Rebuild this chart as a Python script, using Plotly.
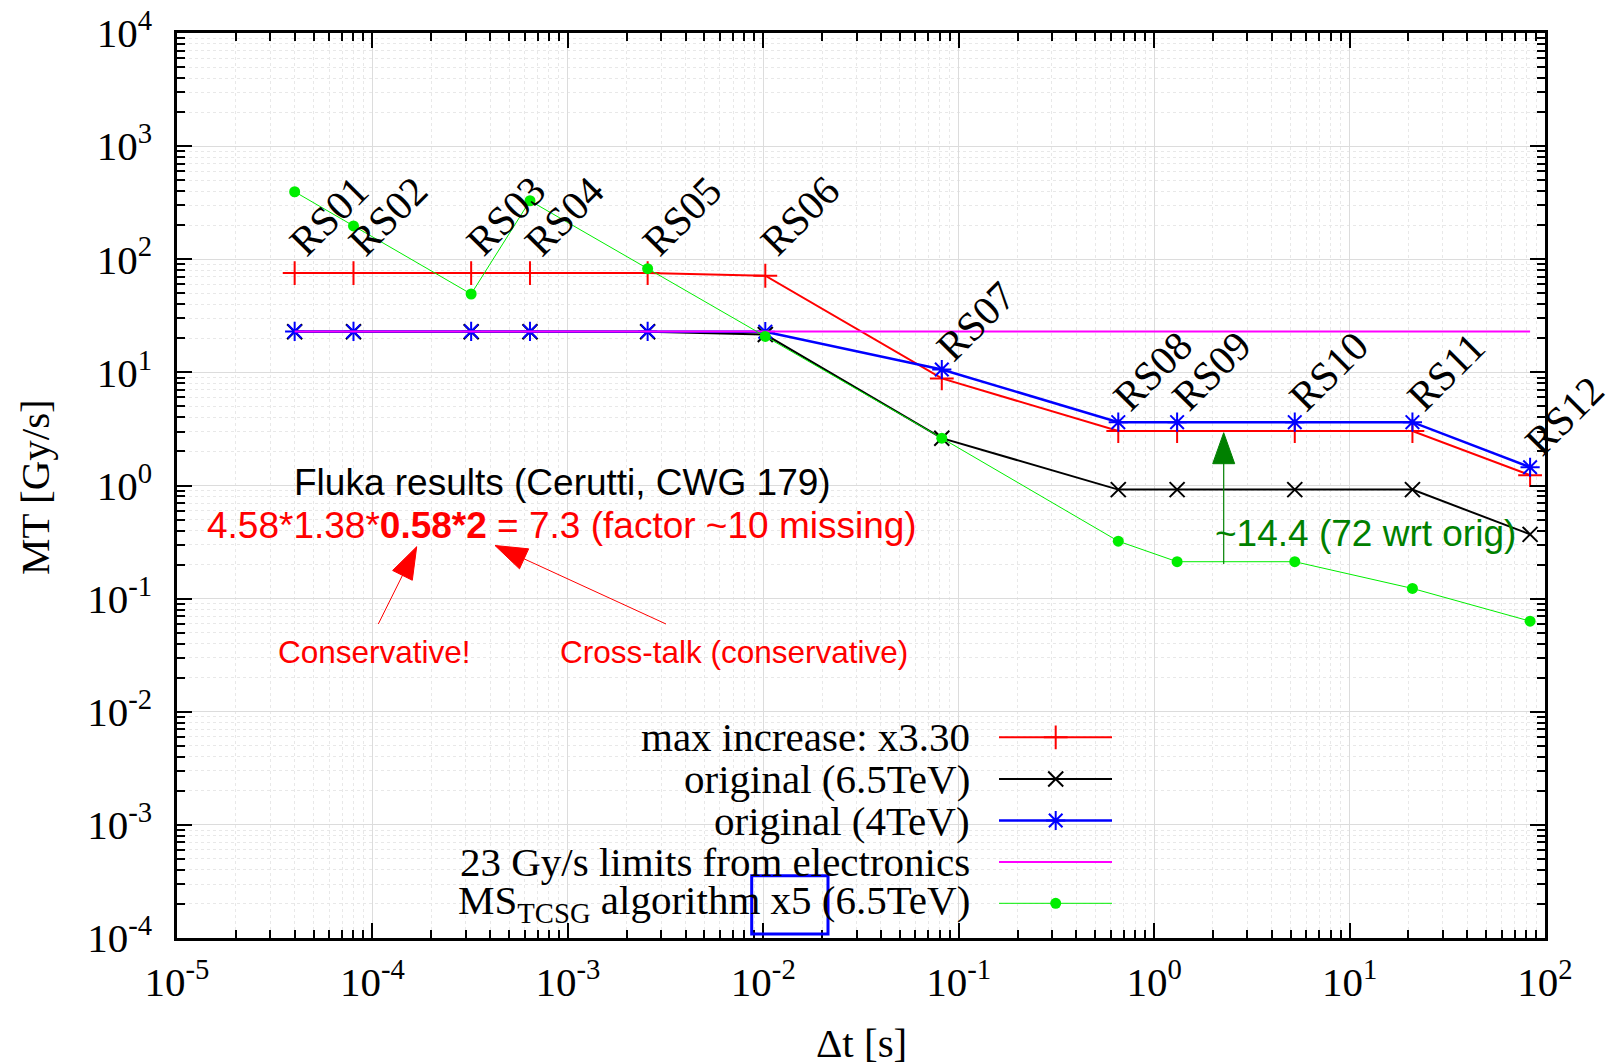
import math
import plotly.graph_objects as go

# ---------------- data ----------------
rs_labels = ["RS01", "RS02", "RS03", "RS04", "RS05", "RS06",
             "RS07", "RS08", "RS09", "RS10", "RS11", "RS12"]
dt_s = [4e-5, 8e-5, 3.2e-4, 6.4e-4, 2.56e-3, 1.024e-2,
        8.192e-2, 0.65536, 1.31072, 5.24288, 20.97152, 83.88608]
max_increase = [75.5, 75.5, 75.5, 75.5, 75.5, 71.5,
                8.85, 3.03, 3.03, 3.03, 3.03, 1.235]
orig_65tev = [22.9, 22.9, 22.9, 22.9, 22.9, 21.6,
              2.62, 0.92, 0.92, 0.92, 0.92, 0.37]
orig_4tev = [23.0, 23.0, 23.0, 23.0, 23.0, 22.9,
             10.6, 3.63, 3.63, 3.63, 3.63, 1.45]
elec_limit = [23, 23, 23, 23, 23, 23, 23, 23, 23, 23, 23, 23]
ms_tcsg_x5 = [395, 197, 49.3, 329, 82.5, 20.8,
              2.62, 0.322, 0.212, 0.212, 0.123, 0.0632]
label_y = [110, 110, 110, 110, 110, 110, 12.9, 4.65, 4.65, 4.65, 4.65, 1.86]

legend_names = ["max increase: x3.30", "original (6.5TeV)", "original (4TeV)",
                "23 Gy/s limits from electronics",
                "MS<sub>TCSG</sub> algorithm x5 (6.5TeV)"]

x_tickvals = [1e-5, 1e-4, 1e-3, 1e-2, 1e-1, 1e0, 1e1, 1e2]
x_ticktext = ["10<sup>-5</sup>", "10<sup>-4</sup>", "10<sup>-3</sup>", "10<sup>-2</sup>",
              "10<sup>-1</sup>", "10<sup>0</sup>", "10<sup>1</sup>", "10<sup>2</sup>"]
y_tickvals = [1e-4, 1e-3, 1e-2, 1e-1, 1e0, 1e1, 1e2, 1e3, 1e4]
y_ticktext = ["10<sup>-4</sup>", "10<sup>-3</sup>", "10<sup>-2</sup>", "10<sup>-1</sup>",
              "10<sup>0</sup>", "10<sup>1</sup>", "10<sup>2</sup>", "10<sup>3</sup>",
              "10<sup>4</sup>"]

# ---------------- layout constants ----------------
W, H = 1607, 1063
ML, MR, MT, MB = 177, 62, 33, 125
PW, PH = W - ML - MR, H - MT - MB
SERIF = "Liberation Serif, Times New Roman, serif"
SANS = "Liberation Sans, Arial, sans-serif"
RED, BLACK, BLUE, MAG, GRN, DKGRN = "#ff0000", "#000000", "#0000ff", "#ff00ff", "#00ee00", "#008000"


def px(x):
    return (x - ML) / PW


def py(y):
    return (MT + PH - y) / PH


x_minor = [k * 10.0 ** e for e in range(-5, 2) for k in range(2, 10)]
y_minor = [k * 10.0 ** e for e in range(-4, 4) for k in range(2, 10)]

fig = go.Figure()

series = [
    (max_increase, RED, 2, "cross-thin", 17, 2),
    (orig_65tev, BLACK, 2, "x-thin", 15, 2),
    (orig_4tev, BLUE, 2.5, "asterisk", 16, 2),
    (elec_limit, MAG, 2, None, 0, 0),
    (ms_tcsg_x5, GRN, 1, "circle", 11, 0),
]
for yv, col, lw, sym, ms, mlw in series:
    if sym is None:
        fig.add_trace(go.Scatter(x=dt_s, y=yv, mode="lines", line=dict(color=col, width=lw),
                                 showlegend=False, hoverinfo="skip"))
    else:
        fig.add_trace(go.Scatter(x=dt_s, y=yv, mode="lines+markers",
                                 line=dict(color=col, width=lw),
                                 marker=dict(symbol=sym, size=ms, color=col,
                                             line=dict(color=col, width=mlw)),
                                 showlegend=False, hoverinfo="skip"))

# ---------------- manual gnuplot-style key ----------------
key_rows = [py(737.3), py(779), py(820.5), py(862), py(903.3)]
key_x0, key_x1, key_xm = px(999), px(1112), px(1055.7)
for (yv, col, lw, sym, ms, mlw), name, ky in zip(series, legend_names, key_rows):
    fig.add_trace(go.Scatter(x=[key_x0, key_x1], y=[ky, ky], mode="lines",
                             line=dict(color=col, width=lw), xaxis="x2", yaxis="y2",
                             showlegend=False, hoverinfo="skip"))
    if sym is not None:
        fig.add_trace(go.Scatter(x=[key_xm], y=[ky], mode="markers",
                                 marker=dict(symbol=sym, size=ms, color=col,
                                             line=dict(color=col, width=mlw)),
                                 xaxis="x2", yaxis="y2", showlegend=False, hoverinfo="skip"))
    fig.add_annotation(x=px(972), y=ky, xref="paper", yref="paper", text=name,
                       showarrow=False, xanchor="right", yanchor="middle",
                       font=dict(family=SERIF, size=41, color="black"))

# ---------------- RS labels ----------------
for lab, xv, yv in zip(rs_labels, dt_s, label_y):
    fig.add_annotation(x=math.log10(xv), y=math.log10(yv), xref="x", yref="y", text=lab,
                       showarrow=False, textangle=-45, xanchor="center", yanchor="middle",
                       xshift=34, yshift=39,
                       font=dict(family=SERIF, size=41, color="black"))

# ---------------- text annotations ----------------
texts = [
    ("Fluka results (Cerutti, CWG 179)", 562, 482, BLACK, 37),
    ("4.58*1.38*<b>0.58*2</b> = 7.3 (factor ~10 missing)", 561.5, 525, RED, 37),
    ("Conservative!", 374, 652, RED, 31.5),
    ("Cross-talk (conservative)", 733.6, 652, RED, 31.5),
    ("~14.4 (72 wrt orig)", 1365, 533.7, DKGRN, 37),
]
for t, xx, yy, col, fs in texts:
    fig.add_annotation(x=px(xx), y=py(yy), xref="paper", yref="paper", text=t,
                       showarrow=False, xanchor="center", yanchor="middle",
                       font=dict(family=SANS, size=fs, color=col))

# axis titles
fig.add_annotation(x=px(35), y=py(487), xref="paper", yref="paper", text="MT [Gy/s]",
                   textangle=-90, showarrow=False, xanchor="center", yanchor="middle",
                   font=dict(family=SERIF, size=41, color="black"))
fig.add_annotation(x=0.5, y=py(1043), xref="paper", yref="paper", text="Δt [s]",
                   showarrow=False, xanchor="center", yanchor="middle",
                   font=dict(family=SERIF, size=41, color="black"))


# ---------------- arrows ----------------
def add_arrow(tip, tail, color, lw, hl, hw):
    ax, ay = px(tip[0]), py(tip[1])
    dx, dy = tail[0] - tip[0], -(tail[1] - tip[1])
    n = math.hypot(dx, dy)
    ux, uy = dx / n, dy / n
    nx, ny = -uy, ux
    bx, by = hl * ux, hl * uy
    c1 = (bx + hw / 2 * nx, by + hw / 2 * ny)
    c2 = (bx - hw / 2 * nx, by - hw / 2 * ny)
    fig.add_shape(type="line", xref="paper", yref="paper", xsizemode="pixel", ysizemode="pixel",
                  xanchor=ax, yanchor=ay, x0=bx * 0.5, y0=by * 0.5, x1=dx, y1=dy,
                  line=dict(color=color, width=lw), layer="above")
    fig.add_shape(type="path", xref="paper", yref="paper", xsizemode="pixel", ysizemode="pixel",
                  xanchor=ax, yanchor=ay,
                  path=f"M0,0 L{c1[0]:.2f},{c1[1]:.2f} L{c2[0]:.2f},{c2[1]:.2f} Z",
                  fillcolor=color, line=dict(color=color, width=1), layer="above")


add_arrow((416.7, 546.7), (378.3, 624), RED, 1, 32, 22)
add_arrow((495, 545.5), (666, 624), RED, 1, 32, 22)
add_arrow((1223.7, 432.7), (1223.7, 564), DKGRN, 1.2, 31, 22)

# blue box around "x5"
fig.add_shape(type="rect", xref="paper", yref="paper", x0=px(751.7), x1=px(828),
              y0=py(934), y1=py(875.7), line=dict(color=BLUE, width=3), layer="above")

axis_common = dict(
    type="log", showline=True, linecolor="black", linewidth=2.5, mirror="allticks",
    ticks="inside", ticklen=15, tickwidth=2, tickcolor="black",
    tickfont=dict(family=SERIF, size=41, color="black"),
    showgrid=True, gridcolor="#dcdcdc", gridwidth=1, zeroline=False, automargin=False,
    tickmode="array",
)

fig.update_layout(
    width=W, height=H,
    margin=dict(l=ML, r=MR, t=MT, b=MB, pad=0),
    paper_bgcolor="white", plot_bgcolor="white",
    showlegend=False,
    xaxis=dict(axis_common, range=[-5, 2], tickvals=x_tickvals, ticktext=x_ticktext,
               ticklabelstandoff=6,
               minor=dict(tickmode="array", tickvals=x_minor, ticks="inside", ticklen=8,
                          tickwidth=1.5, tickcolor="black", showgrid=True,
                          gridcolor="#e8e8e8", griddash="dot", gridwidth=1)),
    yaxis=dict(axis_common, range=[-4, 4], tickvals=y_tickvals, ticktext=y_ticktext,
               ticklabelstandoff=14,
               minor=dict(tickmode="array", tickvals=y_minor, ticks="inside", ticklen=8,
                          tickwidth=1.5, tickcolor="black", showgrid=True,
                          gridcolor="#e8e8e8", griddash="dot", gridwidth=1)),
    xaxis2=dict(overlaying="x", range=[0, 1], visible=False, anchor="y2"),
    yaxis2=dict(overlaying="y", range=[0, 1], visible=False, anchor="x2"),
)

fig.write_html("out.html", config={"displayModeBar": False},
               post_script="document.body.style.margin='0';")
